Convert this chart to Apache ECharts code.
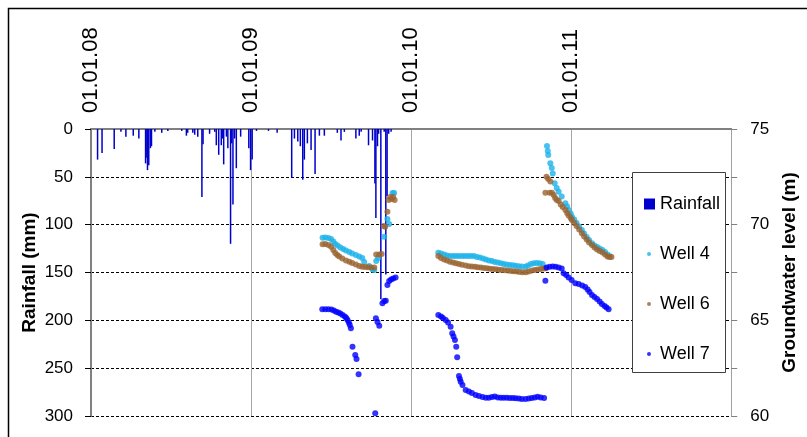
<!DOCTYPE html>
<html>
<head>
<meta charset="utf-8">
<script src="https://cdn.jsdelivr.net/npm/echarts@6/dist/echarts.min.js"></script>
<style>
html,body{margin:0;padding:0;background:#fff;}
#chart{width:807px;height:437px;}
</style>
</head>
<body>
<div id="chart"></div>
<script>
// x values are decimal years (2008.0 = 01.01.08)
const xTicks = [2008, 2009, 2010, 2011, 2012];
const rainfall = [
 [2008.041,32],[2008.069,25],[2008.145,21],[2008.187,3],[2008.218,8],[2008.264,7],[2008.299,10],
 [2008.341,36],[2008.349,30],[2008.353,43],[2008.361,38],[2008.371,20],[2008.378,18],[2008.399,3],
 [2008.442,4],[2008.480,2],[2008.567,2],[2008.596,7],[2008.604,4],[2008.636,4],[2008.648,6],[2008.667,8],
 [2008.693,71],[2008.700,16],[2008.741,5],[2008.773,3],[2008.783,17],[2008.798,27],[2008.814,17],
 [2008.821,10],[2008.829,37],[2008.846,8],[2008.855,20],[2008.872,120],[2008.879,15],[2008.887,79],
 [2008.897,10],[2008.908,41],[2008.935,8],[2008.986,20],[2008.997,43],[2009.007,32],[2009.034,2],
 [2009.109,2],[2009.163,4],[2009.254,51],[2009.271,10],[2009.292,13],[2009.308,18],[2009.323,53],
 [2009.333,32],[2009.352,15],[2009.375,22],[2009.400,47],[2009.427,7],[2009.458,7],[2009.539,4],
 [2009.562,12],[2009.583,3],[2009.655,10],[2009.676,7],[2009.688,3],[2009.734,17],[2009.759,12],
 [2009.774,57],[2009.780,93],[2009.790,18],[2009.797,5],[2009.811,178],[2009.832,3],[2009.842,152],
 [2009.850,70],[2009.860,5],[2009.875,3]
];
const well4 = [
 [2009.447,69.32],[2009.464,69.33],[2009.483,69.30],[2009.500,69.25],[2009.514,69.12],[2009.526,68.99],
 [2009.541,68.91],[2009.558,68.81],[2009.576,68.73],[2009.593,68.65],[2009.614,68.57],[2009.632,68.49],
 [2009.655,68.41],[2009.676,68.33],[2009.695,68.26],[2009.707,68.05],[2009.738,67.84],[2009.759,67.66],
 [2009.770,67.63],[2009.782,68.10],[2009.794,68.26],[2009.832,69.37],[2009.852,70.30],[2009.863,70.03],
 [2009.884,71.66],[2009.894,71.66],
 [2010.170,68.53],[2010.187,68.49],[2010.206,68.44],[2010.224,68.39],[2010.243,68.36],[2010.262,68.36],
 [2010.280,68.36],[2010.299,68.36],[2010.318,68.36],[2010.336,68.36],[2010.355,68.36],[2010.374,68.36],
 [2010.393,68.36],[2010.411,68.31],[2010.430,68.28],[2010.449,68.23],[2010.467,68.18],[2010.486,68.13],
 [2010.505,68.10],[2010.523,68.05],[2010.542,68.02],[2010.561,67.98],[2010.579,67.95],[2010.598,67.92],
 [2010.617,67.89],[2010.636,67.88],[2010.654,67.85],[2010.673,67.83],[2010.692,67.81],[2010.715,67.80],
 [2010.729,67.87],[2010.748,67.94],[2010.766,67.98],[2010.785,68.00],[2010.804,67.98],[2010.822,67.94],
 [2010.849,74.11],[2010.854,73.85],[2010.857,73.64],[2010.870,73.21],[2010.879,72.96],[2010.885,72.68],
 [2010.897,72.16],[2010.910,71.92],[2010.922,71.72],[2010.941,71.47],[2010.964,71.12],[2010.975,70.95],
 [2010.984,70.77],[2010.997,70.58],[2011.005,70.42],[2011.019,70.27],[2011.034,70.09],[2011.050,69.90],
 [2011.067,69.72],[2011.081,69.54],[2011.097,69.36],[2011.112,69.20],[2011.130,69.03],[2011.146,68.91],
 [2011.162,68.83],[2011.178,68.75],[2011.196,68.68],[2011.212,68.57],[2011.227,68.44],[2011.240,68.36]
];
const well6 = [
 [2009.447,68.97],[2009.464,68.99],[2009.483,68.94],[2009.500,68.85],[2009.514,68.68],[2009.526,68.52],
 [2009.539,68.41],[2009.551,68.33],[2009.570,68.23],[2009.593,68.13],[2009.614,68.06],[2009.632,68.00],
 [2009.655,67.92],[2009.676,67.84],[2009.695,67.80],[2009.713,67.79],[2009.732,67.77],[2009.751,67.76],
 [2009.770,67.76],[2009.782,68.44],[2009.801,68.44],[2009.816,68.47],[2009.829,69.93],[2009.838,69.89],
 [2009.852,70.68],[2009.860,71.29],[2009.869,71.45],[2009.879,71.34],[2009.888,71.45],[2009.897,71.29],
 [2010.170,68.36],[2010.187,68.26],[2010.206,68.18],[2010.224,68.13],[2010.243,68.06],[2010.262,68.02],
 [2010.280,67.98],[2010.299,67.94],[2010.318,67.90],[2010.341,67.86],[2010.361,67.83],[2010.380,67.82],
 [2010.399,67.80],[2010.417,67.78],[2010.436,67.76],[2010.455,67.74],[2010.474,67.72],[2010.492,67.70],
 [2010.511,67.68],[2010.530,67.67],[2010.548,67.65],[2010.567,67.63],[2010.586,67.62],[2010.604,67.60],
 [2010.623,67.58],[2010.642,67.56],[2010.660,67.55],[2010.679,67.53],[2010.698,67.51],[2010.717,67.51],
 [2010.735,67.55],[2010.754,67.60],[2010.773,67.63],[2010.791,67.66],[2010.810,67.68],[2010.829,67.71],
 [2010.841,67.72],
 [2010.846,72.51],[2010.857,72.39],[2010.870,72.25],[2010.839,71.67],[2010.866,71.67],[2010.880,71.67],
 [2010.891,71.55],[2010.900,71.39],[2010.910,71.29],[2010.922,71.24],[2010.935,71.05],[2010.947,70.92],
 [2010.964,70.77],[2010.975,70.61],[2010.984,70.48],[2010.997,70.35],[2011.005,70.24],[2011.019,70.09],
 [2011.034,69.93],[2011.050,69.75],[2011.067,69.55],[2011.081,69.38],[2011.097,69.22],[2011.112,69.07],
 [2011.130,68.94],[2011.146,68.81],[2011.162,68.70],[2011.178,68.62],[2011.196,68.55],[2011.212,68.44],
 [2011.227,68.34],[2011.240,68.31],[2011.252,68.31]
];
const well7 = [
 [2009.445,65.58],[2009.464,65.58],[2009.483,65.58],[2009.502,65.56],[2009.517,65.51],[2009.531,65.45],
 [2009.545,65.41],[2009.558,65.36],[2009.572,65.28],[2009.586,65.20],[2009.595,65.12],[2009.603,65.02],
 [2009.611,64.89],[2009.617,64.76],[2009.624,64.58],[2009.634,63.62],[2009.651,63.19],[2009.659,62.98],
 [2009.672,62.18],[2009.776,60.14],[2009.780,65.11],[2009.790,64.91],[2009.801,64.72],[2009.821,65.89],
 [2009.832,66.01],[2009.842,66.03],[2009.852,66.85],[2009.863,67.06],[2009.875,67.13],[2009.888,67.19],
 [2009.903,67.24],
 [2010.170,65.28],[2010.187,65.20],[2010.199,65.12],[2010.216,65.02],[2010.231,64.89],[2010.247,64.67],
 [2010.257,64.32],[2010.265,64.16],[2010.274,63.97],[2010.282,63.62],[2010.288,63.07],[2010.299,62.09],
 [2010.305,61.93],[2010.310,61.79],[2010.321,61.62],[2010.341,61.36],[2010.361,61.28],[2010.380,61.20],
 [2010.403,61.10],[2010.424,61.05],[2010.446,60.99],[2010.467,60.96],[2010.486,60.96],[2010.505,60.99],
 [2010.523,61.02],[2010.542,60.97],[2010.561,60.96],[2010.579,60.96],[2010.598,60.96],[2010.617,60.94],
 [2010.636,60.94],[2010.654,60.93],[2010.673,60.92],[2010.692,60.89],[2010.715,60.89],[2010.735,60.92],
 [2010.754,60.94],[2010.773,60.97],[2010.791,61.01],[2010.810,60.97],[2010.831,60.94],
 [2010.839,67.07],
 [2010.847,67.76],[2010.866,67.80],[2010.885,67.81],[2010.903,67.80],[2010.922,67.76],[2010.941,67.71],
 [2010.953,67.46],[2010.969,67.37],[2010.984,67.24],[2011.003,67.11],[2011.026,66.94],[2011.047,66.90],
 [2011.069,66.82],[2011.088,66.74],[2011.103,66.61],[2011.115,66.48],[2011.130,66.32],[2011.146,66.22],
 [2011.162,66.12],[2011.178,65.98],[2011.192,65.85],[2011.209,65.75],[2011.221,65.67],[2011.234,65.58]
];

const FONT = '"Liberation Sans", Arial, sans-serif';
const chart = echarts.init(document.getElementById('chart'), null, {renderer: 'canvas'});
chart.setOption({
  animation: false,
  backgroundColor: '#fff',
  textStyle: {fontFamily: FONT},
  grid: {left: 91, right: 74, top: 129, bottom: 21, containLabel: false},
  xAxis: {
    type: 'value', position: 'top', min: xTicks[0], max: xTicks[xTicks.length - 1], interval: 1,
    axisLine: {show: true, lineStyle: {color: '#808080', width: 2}},
    axisTick: {show: false},
    axisLabel: {
      rotate: 90, fontSize: 22, color: '#000', margin: 16, fontFamily: FONT,
      formatter: v => (v >= 2012 ? '' : '01.01.' + String(Math.round(v)).slice(2))
    },
    splitLine: {show: true, lineStyle: {color: '#a6a6a6', width: 1, type: 'solid'}}
  },
  yAxis: [
    {
      type: 'value', position: 'left', inverse: true, min: 0, max: 300, interval: 50,
      name: 'Rainfall (mm)', nameLocation: 'middle', nameGap: 52, nameRotate: 90,
      nameMoveOverlap: false,
      nameTextStyle: {fontSize: 19, fontWeight: 'bold', color: '#000', fontFamily: FONT},
      axisLine: {show: true, lineStyle: {color: '#808080', width: 2}},
      axisTick: {show: true, length: 6, lineStyle: {color: '#000', width: 1}},
      axisLabel: {fontSize: 17, color: '#000', margin: 18, fontFamily: FONT},
      splitLine: {show: true, lineStyle: {color: '#000', width: 1, type: [3, 2]}}
    },
    {
      type: 'value', position: 'right', min: 60, max: 75, interval: 2.5,
      name: 'Groundwater level (m)', nameLocation: 'middle', nameGap: 46, nameRotate: 90,
      nameTextStyle: {fontSize: 19, fontWeight: 'bold', color: '#000', fontFamily: FONT},
      axisLine: {show: true, lineStyle: {color: '#a0a0a0', width: 1}},
      axisTick: {show: true, length: 6, lineStyle: {color: '#808080', width: 1}},
      axisLabel: {fontSize: 17, color: '#000', margin: 19, fontFamily: FONT,
        formatter: v => (v % 5 === 0 ? String(v) : '')},
      splitLine: {show: false}
    }
  ],
  legend: [
    {
      data: [{name: 'Rainfall', icon: 'rect'}], orient: 'vertical', left: 639, top: 189,
      itemWidth: 11, itemHeight: 11, z: 20,
      textStyle: {fontSize: 18, color: '#000', fontFamily: FONT, lineHeight: 20}
    },
    {
      data: [{name: 'Well 4', icon: 'circle'}, {name: 'Well 6', icon: 'circle'}, {name: 'Well 7', icon: 'circle'}],
      orient: 'vertical', left: 642, top: 239, itemGap: 30,
      itemWidth: 4, itemHeight: 4, z: 20,
      textStyle: {fontSize: 18, color: '#000', fontFamily: FONT, lineHeight: 20, padding: [0, 0, 0, 4]}
    }
  ],
  graphic: [
    {type: 'rect', z: 0, silent: true, shape: {x: 8.5, y: 8.5, width: 900, height: 500},
     style: {fill: 'none', stroke: '#000', lineWidth: 1.5}},
    {type: 'rect', z: 10, silent: true, shape: {x: 632.5, y: 172.5, width: 93, height: 200},
     style: {fill: '#fff', stroke: '#404040', lineWidth: 1}}
  ],
  series: [
    {name: 'Well 4', type: 'scatter', yAxisIndex: 1, symbolSize: 6, data: well4,
     itemStyle: {color: '#1cb2ea'}},
    {name: 'Well 6', type: 'scatter', yAxisIndex: 1, symbolSize: 6, data: well6,
     itemStyle: {color: '#9a6431'}},
    {name: 'Well 7', type: 'scatter', yAxisIndex: 1, symbolSize: 6, data: well7,
     itemStyle: {color: '#0000ff'}},
    {name: 'Rainfall', type: 'bar', yAxisIndex: 0, barWidth: 1.5, data: rainfall,
     itemStyle: {color: '#0000cc'}}
  ]
});
</script>
</body>
</html>
